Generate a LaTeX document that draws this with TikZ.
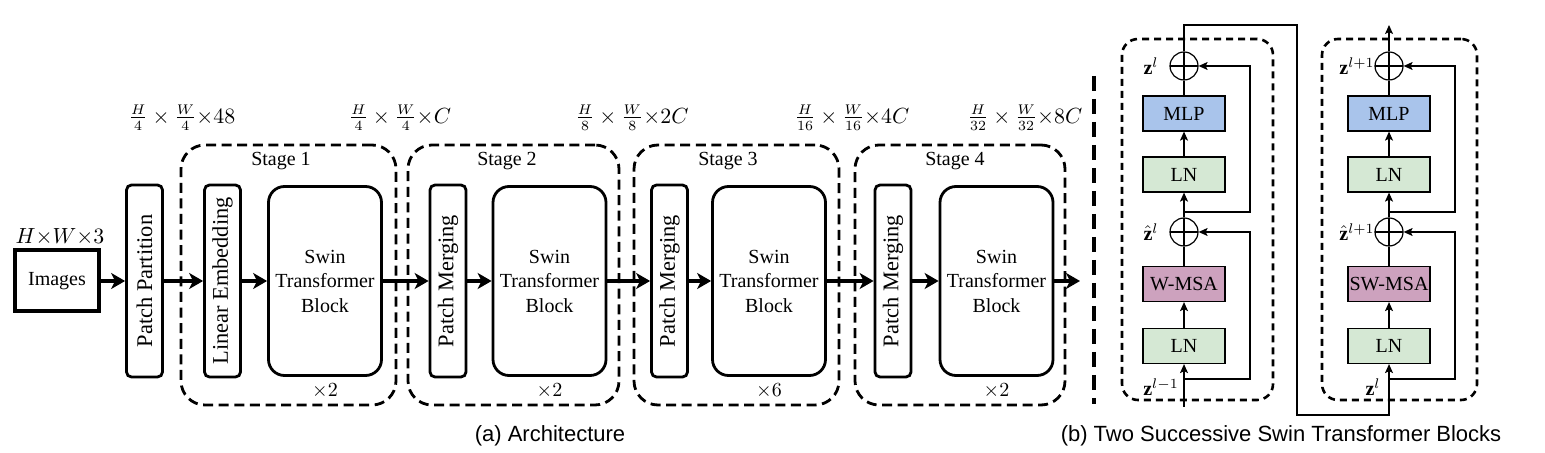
\documentclass[tikz,border=0pt]{standalone}
\usepackage{amsmath}
\usepackage{fontspec}
\setmainfont{Liberation Serif}
\newfontfamily\capfont{Liberation Sans}
\usepackage{xcolor}
\usetikzlibrary{arrows.meta,calc,positioning}
\tikzset{>=latex}
\definecolor{lngreen}{HTML}{D5E8D4}
\definecolor{mlpblue}{HTML}{A9C4EB}
\definecolor{msapink}{HTML}{CDA2BE}

\tikzset{
  flow/.style={line width=2pt,-{Stealth[length=7pt,width=8pt,inset=2pt]}},
  thinarrow/.style={line width=0.6pt,-{Stealth[length=4.5pt,width=4pt,inset=1pt]}},
  slimbox/.style={draw,line width=1.4pt,rounded corners=2.5pt,minimum width=96pt,
    minimum height=18pt,inner sep=0pt,rotate=90,font=\fontsize{11.2}{13}\selectfont},
  swinbox/.style={draw,line width=1.4pt,rounded corners=8pt,minimum width=56.5pt,
    minimum height=94.5pt,align=center},
  stagebox/.style={draw,line width=1.4pt,dash pattern=on 5pt off 2.8pt,
    rounded corners=12pt,minimum height=130pt},
  blockbox/.style={draw,line width=1.3pt,dash pattern=on 3.5pt off 2.5pt,
    rounded corners=8pt,minimum height=180.5pt},
  layer/.style={draw,line width=0.6pt,minimum width=41pt,minimum height=17.5pt,inner sep=0pt},
  lnbox/.style={layer,fill=lngreen},
  mlpbox/.style={layer,fill=mlpblue},
  msabox/.style={layer,fill=msapink},
  addnode/.style={circle,draw,line width=0.6pt,minimum size=14pt,inner sep=0pt,
    path picture={\draw[line width=0.6pt] (path picture bounding box.north) -- (path picture bounding box.south)
      (path picture bounding box.west) -- (path picture bounding box.east);}},
  dimlabel/.style={font=\fontsize{10.5}{12}\selectfont,inner sep=1pt}
}

\begin{document}
\begin{tikzpicture}[x=0.5pt,y=-0.5pt,font=\fontsize{10}{12.25}\selectfont]
\useasboundingbox (0,0) rectangle (1545,453);

% (a) architecture
\node[stagebox,minimum width=107.5pt] (stage1) at (288.5,275) {};
\node[stagebox,minimum width=105.5pt] (stage2) at (513.5,275) {};
\node[stagebox,minimum width=102.5pt] (stage3) at (736.5,275) {};
\node[stagebox,minimum width=105pt] (stage4) at (960,275) {};
\node (name1) at (281,161) {Stage 1};
\node (name2) at (507,161) {Stage 2};
\node (name3) at (728,161) {Stage 3};
\node (name4) at (955,161) {Stage 4};

\node[draw,line width=2pt,minimum width=42pt,minimum height=30.5pt] (img) at (57,281) {Images};
\node[slimbox] (pp) at (144.5,281) {Patch Partition};
\node[slimbox] (le) at (222.5,281) {Linear Embedding};
\node[swinbox] (st1) at (325,281) {Swin\\Transformer\\Block};
\node[slimbox] (pm2) at (448,281) {Patch Merging};
\node[swinbox] (st2) at (549.5,281) {Swin\\Transformer\\Block};
\node[slimbox] (pm3) at (669.5,281) {Patch Merging};
\node[swinbox] (st3) at (769,281) {Swin\\Transformer\\Block};
\node[slimbox] (pm4) at (893,281) {Patch Merging};
\node[swinbox] (st4) at (996.5,281) {Swin\\Transformer\\Block};
\coordinate (out) at (1080,281);

\node[below=0pt of st1] (rep1) {$\times 2$};
\node[below=0pt of st2] (rep2) {$\times 2$};
\node[below=0pt of st3] (rep3) {$\times 6$};
\node[below=0pt of st4] (rep4) {$\times 2$};

\node[dimlabel] (dim0) at (60,237) {$H{\times}W{\times}3$};
\node[dimlabel] (dim1) at (182,118) {$\frac{H}{4}\times\frac{W}{4}{\times}48$};
\node[dimlabel] (dim2) at (400,118) {$\frac{H}{4}\times\frac{W}{4}{\times}C$};
\node[dimlabel] (dim3) at (632,118) {$\frac{H}{8}\times\frac{W}{8}{\times}2C$};
\node[dimlabel] (dim4) at (852,118) {$\frac{H}{16}\times\frac{W}{16}{\times}4C$};
\node[dimlabel] (dim5) at (1025,118) {$\frac{H}{32}\times\frac{W}{32}{\times}8C$};

\draw[flow] (img) -- (pp);
\draw[flow] (pp) -- (le);
\draw[flow] (le) -- (st1);
\draw[flow] (st1) -- (pm2);
\draw[flow] (pm2) -- (st2);
\draw[flow] (st2) -- (pm3);
\draw[flow] (pm3) -- (st3);
\draw[flow] (st3) -- (pm4);
\draw[flow] (pm4) -- (st4);
\draw[flow] (st4) -- (out);

% separator
\draw[line width=2.2pt,dash pattern=on 7.5pt off 4pt] (1094,76) -- (1094,404);

% (b) two successive blocks
\node[blockbox,minimum width=75.5pt] (blkA) at (1197.5,219.5) {};
\node[blockbox,minimum width=77.5pt] (blkB) at (1399.5,219.5) {};

\node[lnbox] (lnA) at (1184,346) {LN};
\node[msabox] (msaA) at (1184,284) {W-MSA};
\node[addnode] (addA) at (1184,232) {};
\node[lnbox] (lnB) at (1184,174.5) {LN};
\node[mlpbox] (mlpA) at (1184,113.5) {MLP};
\node[addnode] (addB) at (1184,66) {};
\coordinate (inA) at (1184,407);
\coordinate (jA) at (1184,379);
\coordinate (jB) at (1184,212);

\node[lnbox] (lnC) at (1389,346) {LN};
\node[msabox] (msaB) at (1389,284) {SW-MSA};
\node[addnode] (addC) at (1389,232) {};
\node[lnbox] (lnD) at (1389,174.5) {LN};
\node[mlpbox] (mlpB) at (1389,113.5) {MLP};
\node[addnode] (addD) at (1389,66) {};
\coordinate (jC) at (1389,379);
\coordinate (jD) at (1389,212);
\coordinate (outB) at (1389,25);

\coordinate (upA) at (1184,25);
\coordinate (linkA) at (1297,25);
\coordinate (linkB) at (1297,415);

\node (zA) at ($(inA)+(-23,-20)$) {$\mathbf{z}^{l-1}$};
\node (zhatA) at ($(addA)+(-33,0)$) {$\hat{\mathbf{z}}^{l}$};
\node (zB) at ($(addB)+(-33,0)$) {$\mathbf{z}^{l}$};
\node (zC) at ($(inA)+(189,-20)$) {$\mathbf{z}^{l}$};
\node (zhatC) at ($(addC)+(-32,0)$) {$\hat{\mathbf{z}}^{l+1}$};
\node (zD) at ($(addD)+(-32,0)$) {$\mathbf{z}^{l+1}$};

\draw[thinarrow] (inA) -- (lnA);
\draw[thinarrow] (lnA) -- (msaA);
\draw[line width=0.6pt] (msaA) -- (addA);
\draw[thinarrow] (jA) -- ++(66,0) |- (addA);
\draw[thinarrow] (addA) -- (lnB);
\draw[thinarrow] (lnB) -- (mlpA);
\draw[line width=0.6pt] (mlpA) -- (addB);
\draw[thinarrow] (jB) -- ++(66,0) |- (addB);
\draw[thinarrow] (addB) -- (upA) -- (linkA) -- (linkB) -| (lnC);

\draw[thinarrow] (lnC) -- (msaB);
\draw[line width=0.6pt] (msaB) -- (addC);
\draw[thinarrow] (jC) -- ++(66,0) |- (addC);
\draw[thinarrow] (addC) -- (lnD);
\draw[thinarrow] (lnD) -- (mlpB);
\draw[line width=0.6pt] (mlpB) -- (addD);
\draw[thinarrow] (jD) -- ++(66,0) |- (addD);
\draw[thinarrow] (addD) -- (outB);

% captions
\node[font=\capfont\fontsize{11}{13}\selectfont] (capA) at (550,436) {(a) Architecture};
\node[font=\capfont\fontsize{11}{13}\selectfont] (capB) at (1281,436) {(b) Two Successive Swin Transformer Blocks};
\end{tikzpicture}
\end{document}
